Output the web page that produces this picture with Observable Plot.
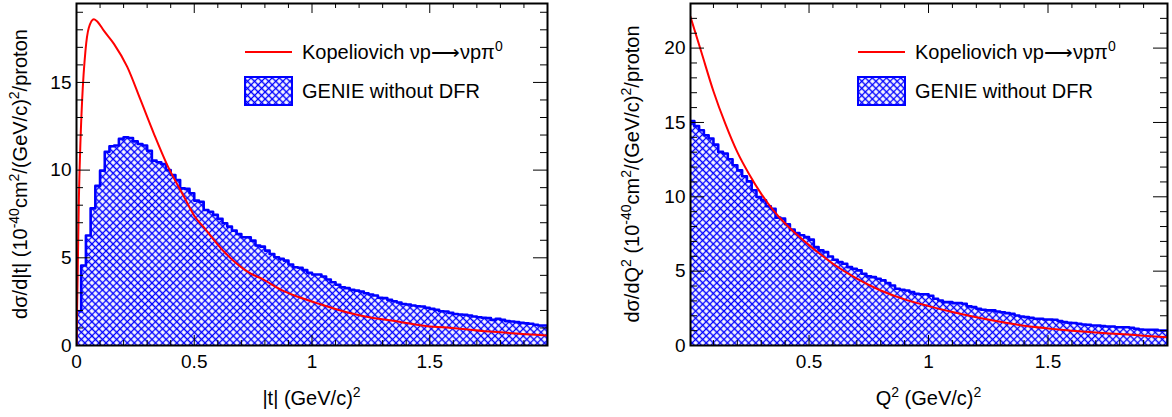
<!DOCTYPE html>
<html><head><meta charset="utf-8">
<script src="https://cdn.jsdelivr.net/npm/d3@7"></script>
<script src="https://cdn.jsdelivr.net/npm/@observablehq/plot@0.6"></script>
<style>
body{margin:0;background:#fff;}
#wrap{display:flex;width:1172px;height:417px;overflow:hidden;}
</style></head><body><div id="wrap"></div>
<script>
// ---------- data ----------
const binWidth = 0.02; // histogram bins 0..2 (100 bins)
const genieT = [1.95,4.56,6.27,7.82,9.1,9.97,11.05,11.36,11.4,11.78,
 11.87,11.83,11.64,11.49,11.4,11.1,10.54,10.45,10.35,10.0,
 9.72,9.44,8.96,8.93,8.68,8.26,8.2,7.73,7.63,7.45,
 7.22,6.97,6.78,6.55,6.36,6.17,6.17,5.98,5.70,5.64,
 5.41,5.22,5.03,4.94,4.84,4.62,4.46,4.43,4.3,4.15,
 4.05,4.05,3.93,3.76,3.61,3.46,3.32,3.27,3.17,3.13,
 3.08,2.98,2.91,2.85,2.72,2.70,2.60,2.52,2.45,2.37,
 2.34,2.28,2.24,2.22,2.15,2.09,2.03,1.95,1.94,1.86,
 1.80,1.77,1.75,1.71,1.65,1.61,1.58,1.56,1.46,1.52,
 1.46,1.39,1.37,1.33,1.29,1.27,1.24,1.18,1.14,1.14];
const genieQ = [15.1,14.75,14.48,14.14,13.92,13.51,13.02,12.91,12.53,12.12,
 11.78,11.38,11.04,10.44,9.99,9.76,9.36,9.2,8.6,8.53,
 8.15,7.79,7.56,7.41,7.29,7.12,6.62,6.4,6.28,5.99,
 5.77,5.61,5.50,5.27,5.16,5.05,4.83,4.65,4.6,4.49,
 4.38,4.2,4.04,3.82,3.75,3.70,3.59,3.48,3.45,3.45,
 3.35,3.14,3.03,2.92,2.92,2.85,2.85,2.81,2.63,2.58,
 2.47,2.40,2.36,2.36,2.29,2.24,2.18,2.13,2.02,1.95,
 1.91,1.86,1.80,1.80,1.75,1.75,1.73,1.64,1.57,1.53,
 1.51,1.46,1.41,1.40,1.35,1.35,1.30,1.28,1.28,1.23,
 1.23,1.23,1.19,1.12,1.08,1.06,1.06,1.06,1.01,1.01];
const kopT_x = [0,0.005,0.01,0.017,0.024,0.038,0.052,0.074,0.09,0.116,0.159,0.215,0.272,0.328,0.385,0.456,0.5,0.54,0.63,0.74,0.78,0.88,0.92,1.036,1.16,1.21,1.38,1.49,1.59,1.77,2.0];
const kopT_y = [0,4,8.3,11.7,14,16.8,18.1,18.6,18.45,17.95,17.2,15.9,14.0,12.1,10.3,8.5,7.4,6.75,5.3,4.1,3.85,3.1,2.88,2.35,1.85,1.7,1.33,1.1,1.0,0.78,0.57];
const kopQ_x = [0.004,0.05,0.1,0.15,0.2,0.25,0.3,0.35,0.4,0.45,0.5,0.55,0.6,0.7,0.8,0.9,1.0,1.1,1.2,1.3,1.4,1.5,1.6,1.7,1.8,1.9,2.0];
const kopQ_y = [22.1,19.7,17.1,14.9,13.0,11.5,10.2,9.1,8.2,7.45,6.75,6.1,5.5,4.5,3.7,3.1,2.65,2.25,1.9,1.6,1.33,1.15,1.0,0.87,0.77,0.66,0.56];
const xTicksT = [0, 0.5, 1, 1.5];
const xTicksQ = [0.5, 1, 1.5];
const yTicksT = [0, 5, 10, 15];
const yTicksQ = [0, 5, 10, 15, 20];
const legendLabels = ["Kopeliovich νp⟶νpπ", "GENIE without DFR"];
const xTitleT = [["|t| (GeV/c)",0],["2",1]];
const xTitleQ = [["Q",0],["2",1],[" (GeV/c)",0],["2",1]];
const yTitleT = [["dσ/d|t| (10",0],["-40",1],["cm",0],["2",1],["/(GeV/c)",0],["2",1],["/proton",0]];
const yTitleQ = [["dσ/dQ",0],["2",1],[" (10",0],["-40",1],["cm",0],["2",1],["/(GeV/c)",0],["2",1],["/proton",0]];

const FONT = "'Liberation Sans', Arial, Helvetica, sans-serif";
const BLUE = "#0000ff", RED = "#ff0000";

function addRich(sel, parts, size) {
  parts.forEach(([s, sup], i) => {
    const prevSup = i > 0 ? parts[i-1][1] : 0;
    const t = sel.append("tspan").text(s);
    if (sup) { t.attr("font-size", size*0.7).attr("dy", -size*0.42); }
    else if (prevSup) { t.attr("dy", size*0.42); }
  });
}

function panel(o) {
  const W = o.W, H = 417;
  const kx = (W - o.ml - o.mr) / (o.xd[1] - o.xd[0]);
  const ky = (H - o.mt - o.mb) / (o.yd[1] - o.yd[0]);
  const hist = [{x: 0, y: 0}].concat(o.vals.map((v, i) => ({x: i * binWidth, y: v})));
  hist.push({x: o.vals.length * binWidth, y: o.vals[o.vals.length - 1]});
  hist.push({x: o.vals.length * binWidth, y: 0});
  const curve = o.cx.map((x, i) => ({x, y: o.cy[i]}));
  const xMinor = d3.range(0, 21).map(i => +(i * 0.1).toFixed(2)).filter(v => v >= o.xd[0] && v <= o.xd[1]);
  const xMajor = xMinor.filter(v => Math.abs(v * 2 - Math.round(v * 2)) < 1e-9);
  const yMinor = d3.range(0, Math.floor(o.yd[1]) + 1);
  const yMajor = yMinor.filter(v => v % 5 === 0);
  const lx = 14 / kx, lxm = 7 / kx, ly = 10 / ky, lym = 5 / ky;
  const [x0, x1] = o.xd, [y0, y1] = o.yd;
  const svg = Plot.plot({
    width: W, height: H,
    marginLeft: o.ml, marginRight: o.mr, marginTop: o.mt, marginBottom: o.mb,
    style: {fontSize: "19px", fontFamily: FONT, color: "black", background: "white"},
    x: {domain: o.xd, ticks: o.xt, tickSize: 0, tickPadding: 9, tickFormat: d => String(d), label: null},
    y: {domain: o.yd, ticks: o.yt, tickSize: 0, tickPadding: 5, tickFormat: d => String(d), label: null},
    marks: [
      Plot.areaY(hist, {x: "x", y: "y", curve: "step-after", fill: `url(#${o.id})`, clip: true}),
      Plot.lineY(hist, {x: "x", y: "y", curve: "step-after", stroke: BLUE, strokeWidth: 2.6, clip: true}),
      Plot.line(curve, {x: "x", y: "y", curve: "monotone-x", stroke: RED, strokeWidth: 2, clip: true}),
      // inward ticks on all four sides (ROOT style)
      Plot.ruleX(xMinor, {x: d => d, y1: y0, y2: d => y0 + (xMajor.includes(d) ? ly : lym), stroke: "black", strokeWidth: 1}),
      Plot.ruleX(xMinor, {x: d => d, y1: d => y1 - (xMajor.includes(d) ? ly : lym), y2: y1, stroke: "black", strokeWidth: 1}),
      Plot.ruleY(yMinor, {y: d => d, x1: x0, x2: d => x0 + (yMajor.includes(d) ? lx : lxm), stroke: "black", strokeWidth: 1}),
      Plot.ruleY(yMinor, {y: d => d, x1: d => x1 - (yMajor.includes(d) ? lx : lxm), x2: x1, stroke: "black", strokeWidth: 1}),
      Plot.frame({stroke: "black", strokeWidth: 2})
    ]
  });
  const s = d3.select(svg);
  const defs = s.insert("defs", ":first-child");
  const pat = defs.append("pattern").attr("id", o.id).attr("patternUnits", "userSpaceOnUse")
    .attr("width", 5).attr("height", 5).attr("patternTransform", "rotate(45)");
  pat.append("path").attr("d", "M0,2.5H5M2.5,0V5").attr("stroke", BLUE).attr("stroke-width", 1.3).attr("fill", "none");

  // axis titles
  const xt = s.append("text").attr("x", (o.ml + W - o.mr) / 2).attr("y", 405)
    .attr("text-anchor", "middle").attr("font-size", 20).attr("font-family", FONT).attr("fill", "black");
  addRich(xt, o.xTitle, 20);
  const yt = s.append("text").attr("transform", `translate(${o.ytx},${(o.mt + H - o.mb) / 2}) rotate(-90)`)
    .attr("text-anchor", "middle").attr("font-size", 20).attr("font-family", FONT).attr("fill", "black");
  addRich(yt, o.yTitle, 20);

  // legend
  const g = s.append("g").attr("font-family", FONT).attr("font-size", 20).attr("fill", "black").attr("text-anchor", "start");
  g.append("line").attr("x1", o.lgx).attr("x2", o.lgx + 47).attr("y1", 52).attr("y2", 52).attr("stroke", RED).attr("stroke-width", 2);
  const t1 = g.append("text").attr("x", o.lgx + 57).attr("y", 59).attr("text-anchor", "start");
  addRich(t1, [[legendLabels[0], 0], ["0", 1]], 20);
  g.append("rect").attr("x", o.lgx).attr("y", 77).attr("width", 47).attr("height", 28)
    .attr("fill", `url(#${o.id})`).attr("stroke", BLUE).attr("stroke-width", 2);
  g.append("text").attr("x", o.lgx + 57).attr("y", 98).attr("text-anchor", "start").text(legendLabels[1]);
  return svg;
}

const wrap = document.getElementById("wrap");
wrap.appendChild(panel({
  id: "hatchT", W: 586, ml: 76, mr: 39, mt: 3, mb: 72,
  xd: [0, 2], yd: [0, 19.5], xt: xTicksT, yt: yTicksT,
  vals: genieT, cx: kopT_x, cy: kopT_y,
  xTitle: xTitleT, yTitle: yTitleT, ytx: 27, lgx: 245
}));
wrap.appendChild(panel({
  id: "hatchQ", W: 586, ml: 104, mr: 5, mt: 3, mb: 72,
  xd: [0.004, 2], yd: [0, 23], xt: xTicksQ, yt: yTicksQ,
  vals: genieQ, cx: kopQ_x, cy: kopQ_y,
  xTitle: xTitleQ, yTitle: yTitleQ, ytx: 53, lgx: 272
}));
</script></body></html>
